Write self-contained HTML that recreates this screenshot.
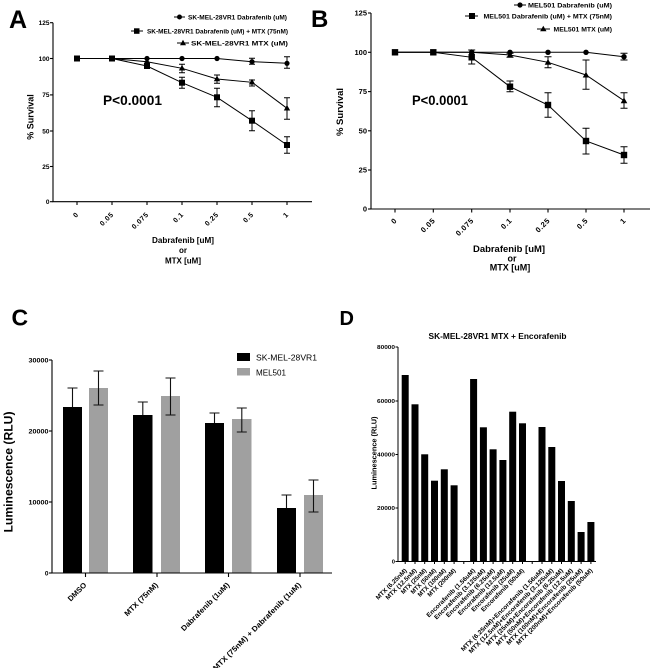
<!DOCTYPE html>
<html><head><meta charset="utf-8"><style>
html,body{margin:0;padding:0;background:#fff;}
svg{display:block;}
text{font-family:"Liberation Sans",Arial,sans-serif;font-weight:bold;fill:#000;}
</style></head><body>
<svg width="650" height="668" viewBox="0 0 650 668" xmlns="http://www.w3.org/2000/svg">
<rect width="650" height="668" fill="#fff"/>

<!-- ================= PANEL A ================= -->
<text x="9" y="28" font-size="25">A</text>
<!-- legend -->
<g stroke="#000" stroke-width="1">
<line x1="174" y1="17" x2="185" y2="17"/>
<line x1="131" y1="31" x2="143" y2="31"/>
<line x1="177" y1="43" x2="189" y2="43"/>
</g>
<circle cx="179.5" cy="17" r="2.5" fill="#000"/>
<rect x="134" y="28.3" width="5.5" height="5.5" fill="#000"/>
<path d="M183,39.8 L186,45.2 L180,45.2 Z" fill="#000"/>
<text x="188" y="19.3" font-size="6" textLength="99" lengthAdjust="spacingAndGlyphs">SK-MEL-28VR1 Dabrafenib (uM)</text>
<text x="147" y="33.3" font-size="6" textLength="141" lengthAdjust="spacingAndGlyphs">SK-MEL-28VR1 Dabrafenib (uM) + MTX (75nM)</text>
<text x="191" y="45.3" font-size="6" textLength="97" lengthAdjust="spacingAndGlyphs">SK-MEL-28VR1 MTX (uM)</text>
<!-- axes -->
<g stroke="#000" stroke-width="1.1" fill="none">
<line x1="53" y1="22.7" x2="53" y2="202"/>
<line x1="52.5" y1="201.7" x2="312" y2="201.7"/>
<line x1="50" y1="22.7" x2="53" y2="22.7"/>
<line x1="50" y1="58.5" x2="53" y2="58.5"/>
<line x1="50" y1="94.9" x2="53" y2="94.9"/>
<line x1="50" y1="131" x2="53" y2="131"/>
<line x1="50" y1="166.5" x2="53" y2="166.5"/>
<line x1="50" y1="201.7" x2="53" y2="201.7"/>
<line x1="77" y1="201.7" x2="77" y2="205"/>
<line x1="112" y1="201.7" x2="112" y2="205"/>
<line x1="147" y1="201.7" x2="147" y2="205"/>
<line x1="182" y1="201.7" x2="182" y2="205"/>
<line x1="217" y1="201.7" x2="217" y2="205"/>
<line x1="252" y1="201.7" x2="252" y2="205"/>
<line x1="287" y1="201.7" x2="287" y2="205"/>
</g>
<g font-size="6.5" text-anchor="end">
<text x="49.5" y="25">125</text>
<text x="49.5" y="60.8">100</text>
<text x="49.5" y="97.2">75</text>
<text x="49.5" y="133.3">50</text>
<text x="49.5" y="168.8">25</text>
<text x="49.5" y="204">0</text>
</g>
<g font-size="7" text-anchor="end" letter-spacing="0.6">
<text transform="translate(79,215) rotate(-45)">0</text>
<text transform="translate(114,215) rotate(-45)">0.05</text>
<text transform="translate(149,215) rotate(-45)">0.075</text>
<text transform="translate(184,215) rotate(-45)">0.1</text>
<text transform="translate(219,215) rotate(-45)">0.25</text>
<text transform="translate(254,215) rotate(-45)">0.5</text>
<text transform="translate(289,215) rotate(-45)">1</text>
</g>
<text transform="translate(33.5,117) rotate(-90)" font-size="9" text-anchor="middle">% Survival</text>
<text x="103" y="105" font-size="14" textLength="59" lengthAdjust="spacingAndGlyphs">P&lt;0.0001</text>
<text x="183" y="243" font-size="8" text-anchor="middle" textLength="62" lengthAdjust="spacingAndGlyphs">Dabrafenib [uM]</text>
<text x="183" y="253" font-size="8" text-anchor="middle">or</text>
<text x="183" y="263.5" font-size="8" text-anchor="middle">MTX [uM]</text>
<!-- series A -->
<g stroke="#000" stroke-width="1" fill="none">
<polyline points="77,58.5 112,58.5 147,58.5 182,58.5 217,58.5 252,61.7 287,63.3"/>
<polyline points="77,58.5 112,58.5 147,61.7 182,68.3 217,79 252,82.3 287,108.3"/>
<polyline points="77,58.5 112,58.5 147,66 182,82.7 217,97.3 252,120.7 287,145"/>
<!-- error bars -->
<path d="M252,58.3V64.3M249,58.3H255M249,64.3H255"/>
<path d="M287,56.7V68.3M284,56.7H290M284,68.3H290"/>
<path d="M182,64.3V72.7M179,64.3H185M179,72.7H185"/>
<path d="M217,75V83.3M214,75H220M214,83.3H220"/>
<path d="M252,80V86M249,80H255M249,86H255"/>
<path d="M287,97.7V119.3M284,97.7H290M284,119.3H290"/>
<path d="M147,63.5V68.5M144,63.5H150M144,68.5H150"/>
<path d="M182,77.3V88.3M179,77.3H185M179,88.3H185"/>
<path d="M217,88.3V106.7M214,88.3H220M214,106.7H220"/>
<path d="M252,110.7V130.7M249,110.7H255M249,130.7H255"/>
<path d="M287,136.7V153.3M284,136.7H290M284,153.3H290"/>
</g>
<g fill="#000">
<circle cx="112" cy="58.5" r="2.6"/><circle cx="147" cy="58.5" r="2.6"/><circle cx="182" cy="58.5" r="2.6"/><circle cx="217" cy="58.5" r="2.6"/><circle cx="252" cy="61.7" r="2.6"/><circle cx="287" cy="63.3" r="2.6"/>
<path d="M147,58.2l3.2,5.6h-6.4z M182,64.9l3.2,5.6h-6.4z M217,75.6l3.2,5.6h-6.4z M252,78.9l3.2,5.6h-6.4z M287,104.9l3.2,5.6h-6.4z"/>
<rect x="74" y="55.5" width="6" height="6"/><rect x="109" y="55.5" width="6" height="6"/><rect x="144" y="63" width="6" height="6"/><rect x="179" y="79.7" width="6" height="6"/><rect x="214" y="94.3" width="6" height="6"/><rect x="249" y="117.7" width="6" height="6"/><rect x="284" y="142" width="6" height="6"/>
</g>

<!-- ================= PANEL B ================= -->
<text x="311" y="27" font-size="24">B</text>
<g stroke="#000" stroke-width="1">
<line x1="514" y1="5" x2="526" y2="5"/>
<line x1="465" y1="16" x2="478" y2="16"/>
<line x1="537" y1="29" x2="550" y2="29"/>
</g>
<circle cx="520" cy="5" r="2.6" fill="#000"/>
<rect x="469" y="13" width="6" height="6" fill="#000"/>
<path d="M543.3,25.8 L546.5,31.3 L540.1,31.3 Z" fill="#000"/>
<text x="528" y="7.3" font-size="6.5" textLength="84" lengthAdjust="spacingAndGlyphs">MEL501 Dabrafenib (uM)</text>
<text x="483.5" y="18.3" font-size="6.5" textLength="128.5" lengthAdjust="spacingAndGlyphs">MEL501 Dabrafenib (uM) + MTX (75nM)</text>
<text x="553.5" y="31.3" font-size="6.5" textLength="58.5" lengthAdjust="spacingAndGlyphs">MEL501 MTX (uM)</text>
<g stroke="#000" stroke-width="1.1" fill="none">
<line x1="371" y1="13" x2="371" y2="209.5"/>
<line x1="370.5" y1="209" x2="650" y2="209"/>
<line x1="368" y1="13" x2="371" y2="13"/>
<line x1="368" y1="52.3" x2="371" y2="52.3"/>
<line x1="368" y1="91.6" x2="371" y2="91.6"/>
<line x1="368" y1="130.8" x2="371" y2="130.8"/>
<line x1="368" y1="170" x2="371" y2="170"/>
<line x1="368" y1="209" x2="371" y2="209"/>
<line x1="395" y1="209" x2="395" y2="212.5"/>
<line x1="433.3" y1="209" x2="433.3" y2="212.5"/>
<line x1="471.7" y1="209" x2="471.7" y2="212.5"/>
<line x1="510" y1="209" x2="510" y2="212.5"/>
<line x1="548" y1="209" x2="548" y2="212.5"/>
<line x1="586" y1="209" x2="586" y2="212.5"/>
<line x1="624" y1="209" x2="624" y2="212.5"/>
</g>
<g font-size="7.5" text-anchor="end">
<text x="367" y="15.6">125</text>
<text x="367" y="54.9">100</text>
<text x="367" y="94.2">75</text>
<text x="367" y="133.4">50</text>
<text x="367" y="172.6">25</text>
<text x="367" y="211.6">0</text>
</g>
<g font-size="7.5" text-anchor="end" letter-spacing="0.6">
<text transform="translate(397.5,221) rotate(-45)">0</text>
<text transform="translate(435.8,221) rotate(-45)">0.05</text>
<text transform="translate(474.2,221) rotate(-45)">0.075</text>
<text transform="translate(512.5,221) rotate(-45)">0.1</text>
<text transform="translate(550.5,221) rotate(-45)">0.25</text>
<text transform="translate(588.5,221) rotate(-45)">0.5</text>
<text transform="translate(626.5,221) rotate(-45)">1</text>
</g>
<text transform="translate(343,112) rotate(-90)" font-size="9.5" text-anchor="middle">% Survival</text>
<text x="412" y="105" font-size="13.5" textLength="56" lengthAdjust="spacingAndGlyphs">P&lt;0.0001</text>
<text x="509" y="252" font-size="9" text-anchor="middle" textLength="72" lengthAdjust="spacingAndGlyphs">Dabrafenib [uM]</text>
<text x="512" y="261.5" font-size="9" text-anchor="middle">or</text>
<text x="510" y="270.5" font-size="9" text-anchor="middle">MTX [uM]</text>
<g stroke="#000" stroke-width="1" fill="none">
<polyline points="395,52.3 433.3,52.3 471.7,52.3 510,52.3 548,52.3 586,52.3 624,56.7"/>
<polyline points="395,52.3 433.3,52.3 471.7,52.3 510,55 548,62.3 586,75 624,100.7"/>
<polyline points="395,52.3 433.3,52.3 471.7,57.3 510,86.7 548,105 586,141 624,155"/>
<path d="M624,53.3V60M620.5,53.3H627.5M620.5,60H627.5"/>
<path d="M510,53.3V57.3M506.5,53.3H513.5M506.5,57.3H513.5"/>
<path d="M548,56.7V67.7M544.5,56.7H551.5M544.5,67.7H551.5"/>
<path d="M586,60V89.3M582.5,60H589.5M582.5,89.3H589.5"/>
<path d="M624,92.7V108.3M620.5,92.7H627.5M620.5,108.3H627.5"/>
<path d="M471.7,50V64M468.2,50H475.2M468.2,64H475.2"/>
<path d="M510,81V91.7M506.5,81H513.5M506.5,91.7H513.5"/>
<path d="M548,92.7V117.3M544.5,92.7H551.5M544.5,117.3H551.5"/>
<path d="M586,128.3V154M582.5,128.3H589.5M582.5,154H589.5"/>
<path d="M624,146.7V163.3M620.5,146.7H627.5M620.5,163.3H627.5"/>
</g>
<g fill="#000">
<circle cx="433.3" cy="52.3" r="2.7"/><circle cx="471.7" cy="52.3" r="2.7"/><circle cx="510" cy="52.3" r="2.7"/><circle cx="548" cy="52.3" r="2.7"/><circle cx="586" cy="52.3" r="2.7"/><circle cx="624" cy="56.7" r="2.7"/>
<path d="M471.7,49l3.3,5.8h-6.6z M510,51.7l3.3,5.8h-6.6z M548,59l3.3,5.8h-6.6z M586,71.7l3.3,5.8h-6.6z M624,97.4l3.3,5.8h-6.6z"/>
<rect x="391.8" y="49.1" width="6.4" height="6.4"/><rect x="430.1" y="49.1" width="6.4" height="6.4"/><rect x="468.5" y="54.1" width="6.4" height="6.4"/><rect x="506.8" y="83.5" width="6.4" height="6.4"/><rect x="544.8" y="101.8" width="6.4" height="6.4"/><rect x="582.8" y="137.8" width="6.4" height="6.4"/><rect x="620.8" y="151.8" width="6.4" height="6.4"/>
</g>

<!-- ================= PANEL C ================= -->
<text x="11.5" y="325.5" font-size="23">C</text>
<rect x="237" y="353" width="13" height="8" fill="#000"/>
<rect x="237" y="368" width="13" height="7.5" fill="#a0a0a0"/>
<text x="256" y="360.5" font-size="8.5" font-weight="normal" style="font-weight:normal" textLength="61" lengthAdjust="spacingAndGlyphs">SK-MEL-28VR1</text>
<text x="256" y="375.5" font-size="8.5" style="font-weight:normal" textLength="30" lengthAdjust="spacingAndGlyphs">MEL501</text>
<!-- bars -->
<g fill="#000">
<rect x="63" y="407" width="19" height="166"/>
<rect x="133" y="415" width="19.5" height="158"/>
<rect x="205" y="423" width="19" height="150"/>
<rect x="277" y="508" width="19" height="65"/>
</g>
<g fill="#a0a0a0">
<rect x="89" y="388" width="19" height="185"/>
<rect x="161" y="396" width="19" height="177"/>
<rect x="232" y="419" width="19.5" height="154"/>
<rect x="304" y="495" width="19" height="78"/>
</g>
<g stroke="#111" stroke-width="1.1" fill="none">
<path d="M72.5,388V407M67.5,388H77.5"/>
<path d="M142.8,402V415M137.8,402H147.8"/>
<path d="M214.5,413V423M209.5,413H219.5"/>
<path d="M286.5,495V508M281.5,495H291.5"/>
<path d="M98.5,371V405M93.5,371H103.5M93.5,405H103.5"/>
<path d="M170.5,378V415M165.5,378H175.5M165.5,415H175.5"/>
<path d="M241.8,408V432M236.8,408H246.8M236.8,432H246.8"/>
<path d="M313.5,480V512M308.5,480H318.5M308.5,512H318.5"/>
</g>
<g stroke="#000" stroke-width="1.1" fill="none">
<line x1="52" y1="360" x2="52" y2="573.5"/>
<line x1="51.5" y1="573" x2="332" y2="573"/>
<line x1="49" y1="360" x2="52" y2="360"/>
<line x1="49" y1="431" x2="52" y2="431"/>
<line x1="49" y1="502" x2="52" y2="502"/>
<line x1="49" y1="573" x2="52" y2="573"/>
<line x1="85.5" y1="573" x2="85.5" y2="577"/>
<line x1="157" y1="573" x2="157" y2="577"/>
<line x1="228.5" y1="573" x2="228.5" y2="577"/>
<line x1="300" y1="573" x2="300" y2="577"/>
</g>
<g font-size="6.5" text-anchor="end">
<text x="48.5" y="362.3" textLength="20" lengthAdjust="spacingAndGlyphs">30000</text>
<text x="48.5" y="433.3" textLength="20" lengthAdjust="spacingAndGlyphs">20000</text>
<text x="48.5" y="504.3" textLength="20" lengthAdjust="spacingAndGlyphs">10000</text>
<text x="48.5" y="575.3">0</text>
</g>
<text transform="translate(12.5,472) rotate(-90)" font-size="12" text-anchor="middle" textLength="121" lengthAdjust="spacingAndGlyphs">Luminescence (RLU)</text>
<g font-size="7.5" text-anchor="end">
<text transform="translate(87,585.5) rotate(-45)" textLength="23" lengthAdjust="spacingAndGlyphs">DMSO</text>
<text transform="translate(158.5,585.5) rotate(-45)" textLength="44" lengthAdjust="spacingAndGlyphs">MTX (75nM)</text>
<text transform="translate(230,585.5) rotate(-45)" textLength="65" lengthAdjust="spacingAndGlyphs">Dabrafenib (1uM)</text>
<text transform="translate(301.5,585.5) rotate(-45)" textLength="121" lengthAdjust="spacingAndGlyphs">MTX (75nM) + Dabrafenib (1uM)</text>
</g>

<!-- ================= PANEL D ================= -->
<text x="339.5" y="325" font-size="20">D</text>
<text x="497.5" y="339" font-size="8.5" text-anchor="middle" textLength="138" lengthAdjust="spacingAndGlyphs">SK-MEL-28VR1 MTX + Encorafenib</text>
<g fill="#000">
<rect x="401.7" y="375" width="7" height="186.5"/>
<rect x="411.5" y="404.3" width="7" height="157.2"/>
<rect x="421.2" y="454.3" width="7" height="107.2"/>
<rect x="431" y="480.7" width="7" height="80.8"/>
<rect x="440.8" y="469.3" width="7" height="92.2"/>
<rect x="450.6" y="485.3" width="7" height="76.2"/>
<rect x="470.1" y="379" width="7" height="182.5"/>
<rect x="479.9" y="427.3" width="7" height="134.2"/>
<rect x="489.6" y="449.3" width="7" height="112.2"/>
<rect x="499.4" y="460" width="7" height="101.5"/>
<rect x="509.2" y="411.7" width="7" height="149.8"/>
<rect x="519" y="423.3" width="7" height="138.2"/>
<rect x="538.5" y="427" width="7" height="134.5"/>
<rect x="548.3" y="447" width="7" height="114.5"/>
<rect x="558" y="481" width="7" height="80.5"/>
<rect x="567.8" y="501" width="7" height="60.5"/>
<rect x="577.6" y="532" width="7" height="29.5"/>
<rect x="587.4" y="522" width="7" height="39.5"/>
</g>
<g stroke="#000" stroke-width="1" fill="none">
<line x1="398" y1="347" x2="398" y2="562"/>
<line x1="397.5" y1="561.5" x2="596" y2="561.5"/>
<line x1="395.5" y1="347" x2="398" y2="347"/>
<line x1="395.5" y1="401" x2="398" y2="401"/>
<line x1="395.5" y1="454.5" x2="398" y2="454.5"/>
<line x1="395.5" y1="508" x2="398" y2="508"/>
<line x1="395.5" y1="561.5" x2="398" y2="561.5"/>
<path d="M405.2,561.5v2.5M415,561.5v2.5M424.7,561.5v2.5M434.5,561.5v2.5M444.3,561.5v2.5M454.1,561.5v2.5M463.8,561.5v2.5M473.6,561.5v2.5M483.4,561.5v2.5M493.1,561.5v2.5M502.9,561.5v2.5M512.7,561.5v2.5M522.5,561.5v2.5M532.2,561.5v2.5M542,561.5v2.5M551.8,561.5v2.5M561.5,561.5v2.5M571.3,561.5v2.5M581.1,561.5v2.5M590.9,561.5v2.5"/>
</g>
<g font-size="5.8" text-anchor="end">
<text x="395" y="349" textLength="18" lengthAdjust="spacingAndGlyphs">80000</text>
<text x="395" y="403" textLength="18" lengthAdjust="spacingAndGlyphs">60000</text>
<text x="395" y="456.5" textLength="18" lengthAdjust="spacingAndGlyphs">40000</text>
<text x="395" y="510" textLength="18" lengthAdjust="spacingAndGlyphs">20000</text>
<text x="395" y="563.5">0</text>
</g>
<text transform="translate(376.5,453) rotate(-90)" font-size="7" text-anchor="middle" textLength="73" lengthAdjust="spacingAndGlyphs">Luminescence (RLU)</text>
<g font-size="6.2" text-anchor="end">
<text transform="translate(407.2,571) rotate(-45)" textLength="41" lengthAdjust="spacingAndGlyphs">MTX (6.25nM)</text>
<text transform="translate(417,571) rotate(-45)" textLength="41" lengthAdjust="spacingAndGlyphs">MTX (12.5nM)</text>
<text transform="translate(426.7,571) rotate(-45)" textLength="33" lengthAdjust="spacingAndGlyphs">MTX (25nM)</text>
<text transform="translate(436.5,571) rotate(-45)" textLength="33" lengthAdjust="spacingAndGlyphs">MTX (50nM)</text>
<text transform="translate(446.3,571) rotate(-45)" textLength="37" lengthAdjust="spacingAndGlyphs">MTX (100nM)</text>
<text transform="translate(456.1,571) rotate(-45)" textLength="37" lengthAdjust="spacingAndGlyphs">MTX (200nM)</text>
<text transform="translate(475.6,571) rotate(-45)" textLength="66" lengthAdjust="spacingAndGlyphs">Encorafenib (1.56uM)</text>
<text transform="translate(485.4,571) rotate(-45)" textLength="69" lengthAdjust="spacingAndGlyphs">Encorafenib (3.125uM)</text>
<text transform="translate(495.1,571) rotate(-45)" textLength="66" lengthAdjust="spacingAndGlyphs">Encorafenib (6.25uM)</text>
<text transform="translate(504.9,571) rotate(-45)" textLength="63" lengthAdjust="spacingAndGlyphs">Encorafenib (12.5uM)</text>
<text transform="translate(514.7,571) rotate(-45)" textLength="58" lengthAdjust="spacingAndGlyphs">Encorafenib (25uM)</text>
<text transform="translate(524.5,571) rotate(-45)" textLength="58" lengthAdjust="spacingAndGlyphs">Encorafenib (50uM)</text>
<text transform="translate(544,571) rotate(-45)" textLength="114" lengthAdjust="spacingAndGlyphs">MTX (6.25nM)+Encorafenib (1.56uM)</text>
<text transform="translate(553.8,571) rotate(-45)" textLength="117" lengthAdjust="spacingAndGlyphs">MTX (12.5nM)+Encorafenib (3.125uM)</text>
<text transform="translate(563.5,571) rotate(-45)" textLength="106" lengthAdjust="spacingAndGlyphs">MTX (25nM)+Encorafenib (6.25uM)</text>
<text transform="translate(573.3,571) rotate(-45)" textLength="106" lengthAdjust="spacingAndGlyphs">MTX (50nM)+Encorafenib (12.5uM)</text>
<text transform="translate(583.1,571) rotate(-45)" textLength="105" lengthAdjust="spacingAndGlyphs">MTX (100nM)+Encorafenib (25uM)</text>
<text transform="translate(592.9,571) rotate(-45)" textLength="105" lengthAdjust="spacingAndGlyphs">MTX (200nM)+Encorafenib (50uM)</text>
</g>
</svg>
</body></html>
